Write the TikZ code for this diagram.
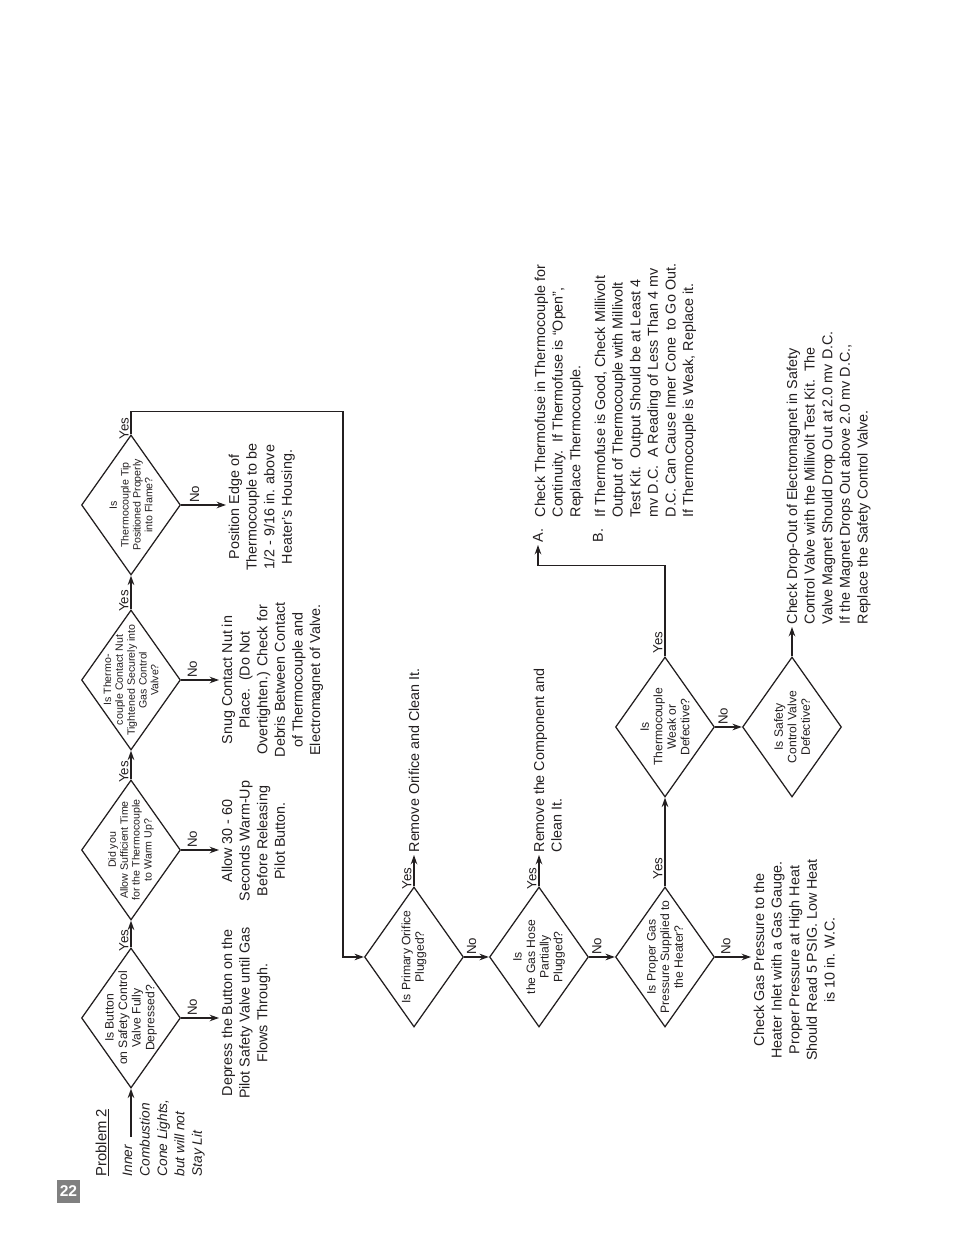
\documentclass[tikz,border=0pt]{standalone}
\usepackage{fontspec}
\setmainfont{Liberation Sans}
\setsansfont{Liberation Sans}
\usepackage{tikz}
\usetikzlibrary{arrows.meta,shapes.geometric}
\definecolor{ink}{HTML}{231F20}
\definecolor{tabgray}{HTML}{808080}

\begin{document}
\begin{tikzpicture}[
  x=0.6415pt,y=0.6415pt,
  line cap=butt,line join=miter,
  decision/.style={diamond,draw=ink,line width=.8pt,aspect=1.41,inner sep=-12pt,
                   minimum width=89.8pt,minimum height=63.5pt,align=center,text=ink,
                   font=\fontsize{7.8}{8.7}\selectfont},
  smalldecision/.style={decision,font=\fontsize{6.8}{7.6}\selectfont},
  note/.style={align=center,text=ink,inner sep=1.5pt,font=\fontsize{9.2}{11.3}\selectfont},
  leftnote/.style={note,align=left},
  lbl/.style={text=ink,inner sep=1pt,font=\fontsize{8.5}{10}\selectfont},
  arrow/.style={-{Stealth[length=6pt,width=4.2pt]},line width=1.1pt,draw=ink},
  loop/.style={-{Stealth[length=6pt,width=4.2pt]},line width=.8pt,draw=ink}
]
\path[fill=white] (0,0) rectangle (954,1235);
% page tab
\node[fill=tabgray,text=white,minimum size=14.8pt,inner sep=0pt,
      font=\bfseries\fontsize{10}{12}\selectfont] (page) at (68.5,43.5) {22};

% the chart is printed sideways
\begin{scope}[shift={(954,0)},rotate=90,transform shape]
\node[anchor=north west,text=ink,inner sep=1.5pt,font=\fontsize{9.5}{11.5}\selectfont]
  (title) at (56,861) {\underline{Problem 2}};
\node[leftnote,anchor=north west,font=\itshape\fontsize{8.8}{11.2}\selectfont]
  (symptom) at (56,834) {Inner\\Combustion\\Cone Lights,\\but will not\\Stay Lit};
\coordinate (entry) at (98,823);

% first row: checks on the pilot
\node[decision] (d1) at (217,823) {Is Button\\on Safety Control\\Valve Fully\\Depressed?};
\node[smalldecision] (d2) at (385,823) {Did you\\Allow Sufficient Time\\for the Thermocouple\\to Warm Up?};
\node[smalldecision] (d3) at (555,823) {Is Thermo-\\couple Contact Nut\\Tightened Securely into\\Gas Control\\Valve?};
\node[smalldecision] (d4) at (730,823) {Is\\Thermocouple Tip\\Positioned Properly\\into Flame?};

\node[note,anchor=north] (t1) at (222,735)
  {Depress the Button on the\\Pilot Safety Valve until Gas\\Flows Through.};
\node[note,anchor=north] (t2) at (394,735)
  {Allow 30 - 60\\Seconds Warm-Up\\Before Releasing\\Pilot Button.};
\node[note,anchor=north] (t3) at (555,735)
  {Snug Contact Nut in\\Place.\ \ (Do Not\\Overtighten.) Check for\\Debris Between Contact\\of Thermocouple and\\Electromagnet of Valve.};
\node[note,anchor=north] (t4) at (728,728)
  {Position Edge of\\Thermocouple to be\\1/2 - 9/16 in. above\\Heater's Housing.};

\draw[arrow] (entry) -- (d1.west);
\draw[arrow] (d1.east) -- node[lbl,above,near start]{Yes} (d2.west);
\draw[arrow] (d2.east) -- node[lbl,above,near start]{Yes} (d3.west);
\draw[arrow] (d3.east) -- node[lbl,above,near start]{Yes} (d4.west);
\draw[arrow] (d1.south) -- node[lbl,right,pos=.3]{No} (d1.south |- t1.north);
\draw[arrow] (d2.south) -- node[lbl,right,pos=.3]{No} (d2.south |- t2.north);
\draw[arrow] (d3.south) -- node[lbl,right,pos=.3]{No} (d3.south |- t3.north);
\draw[arrow] (d4.south) -- node[lbl,right,pos=.3]{No} (d4.south |- t4.north);

% second row: gas supply and safety valve
\node[decision] (d5) at (278,540) {Is Primary Orifice\\Plugged?};
\node[decision] (d6) at (278,415) {Is\\the Gas Hose\\Partially\\Plugged?};
\node[decision] (d7) at (278,289) {Is Proper Gas\\Pressure Supplied to\\the Heater?};
\node[decision] (d8) at (508,289) {Is\\Thermocouple\\Weak or\\Defective?};
\node[decision] (d9) at (508,162) {Is Safety\\Control Valve\\Defective?};

\draw[loop] (d4.east) -- node[lbl,above,pos=.25]{Yes} ++(23,0) -- ++(0,-212) -| (d5.north);

\node[note,anchor=west] (r5) at (380,540) {Remove Orifice and Clean It.};
\node[leftnote,anchor=north west] (r6) at (380,423) {Remove the Component and\\Clean It.};
\node[note,anchor=north] (t7) at (275,203)
  {Check Gas Pressure to the\\Heater Inlet with a Gas Gauge.\\Proper Pressure at High Heat\\Should Read 5 PSIG. Low Heat\\is 10 in. W.C.};
\node[note,anchor=west] (markA) at (690,416) {A.};
\node[leftnote,anchor=north west] (fixA) at (715,422)
  {Check Thermofuse in Thermocouple for\\Continuity.\ \ If Thermofuse is ``Open'',\\Replace Thermocouple.};
\node[note,anchor=west] (markB) at (690,356) {B.};
\node[leftnote,anchor=north west] (fixB) at (715,362)
  {If Thermofuse is Good, Check Millivolt\\Output of Thermocouple with Millivolt\\Test Kit.\ \ Output Should be at Least 4\\mv D.C.\ \ A Reading of Less Than 4 mv\\D.C. Can Cause Inner Cone\ \ to Go Out.\\If Thermocouple is Weak, Replace it.};
\node[leftnote,anchor=north west] (r9) at (608,170)
  {Check Drop-Out of Electromagnet in Safety\\Control Valve with the Millivolt Test Kit.\ \ The\\Valve Magnet Should Drop Out at 2.0 mv D.C.\\If the Magnet Drops Out above 2.0 mv D.C.,\\Replace the Safety Control Valve.};

\draw[arrow] (d5.east) -- node[lbl,above,near start]{Yes} (r5.west);
\draw[arrow] (d5.south) -- node[lbl,right,pos=.3]{No} (d6.north);
\draw[arrow] (d6.east) -- node[lbl,above,near start]{Yes} (d6.east -| r6.west);
\draw[arrow] (d6.south) -- node[lbl,right,pos=.3]{No} (d7.north);
\draw[arrow] (d7.east) -- node[lbl,above,pos=.2]{Yes} (d8.west);
\draw[arrow] (d7.south) -- node[lbl,right,pos=.3]{No} (d7.south |- t7.north);
\draw[arrow] (d8.east) -- node[lbl,above,pos=.15]{Yes} ++(91,0) |- (markA.west);
\draw[arrow] (d8.south) -- node[lbl,right,pos=.3]{No} (d9.north);
\draw[arrow] (d9.east) -- (d9.east -| r9.west);
\end{scope}
\end{tikzpicture}
\end{document}
